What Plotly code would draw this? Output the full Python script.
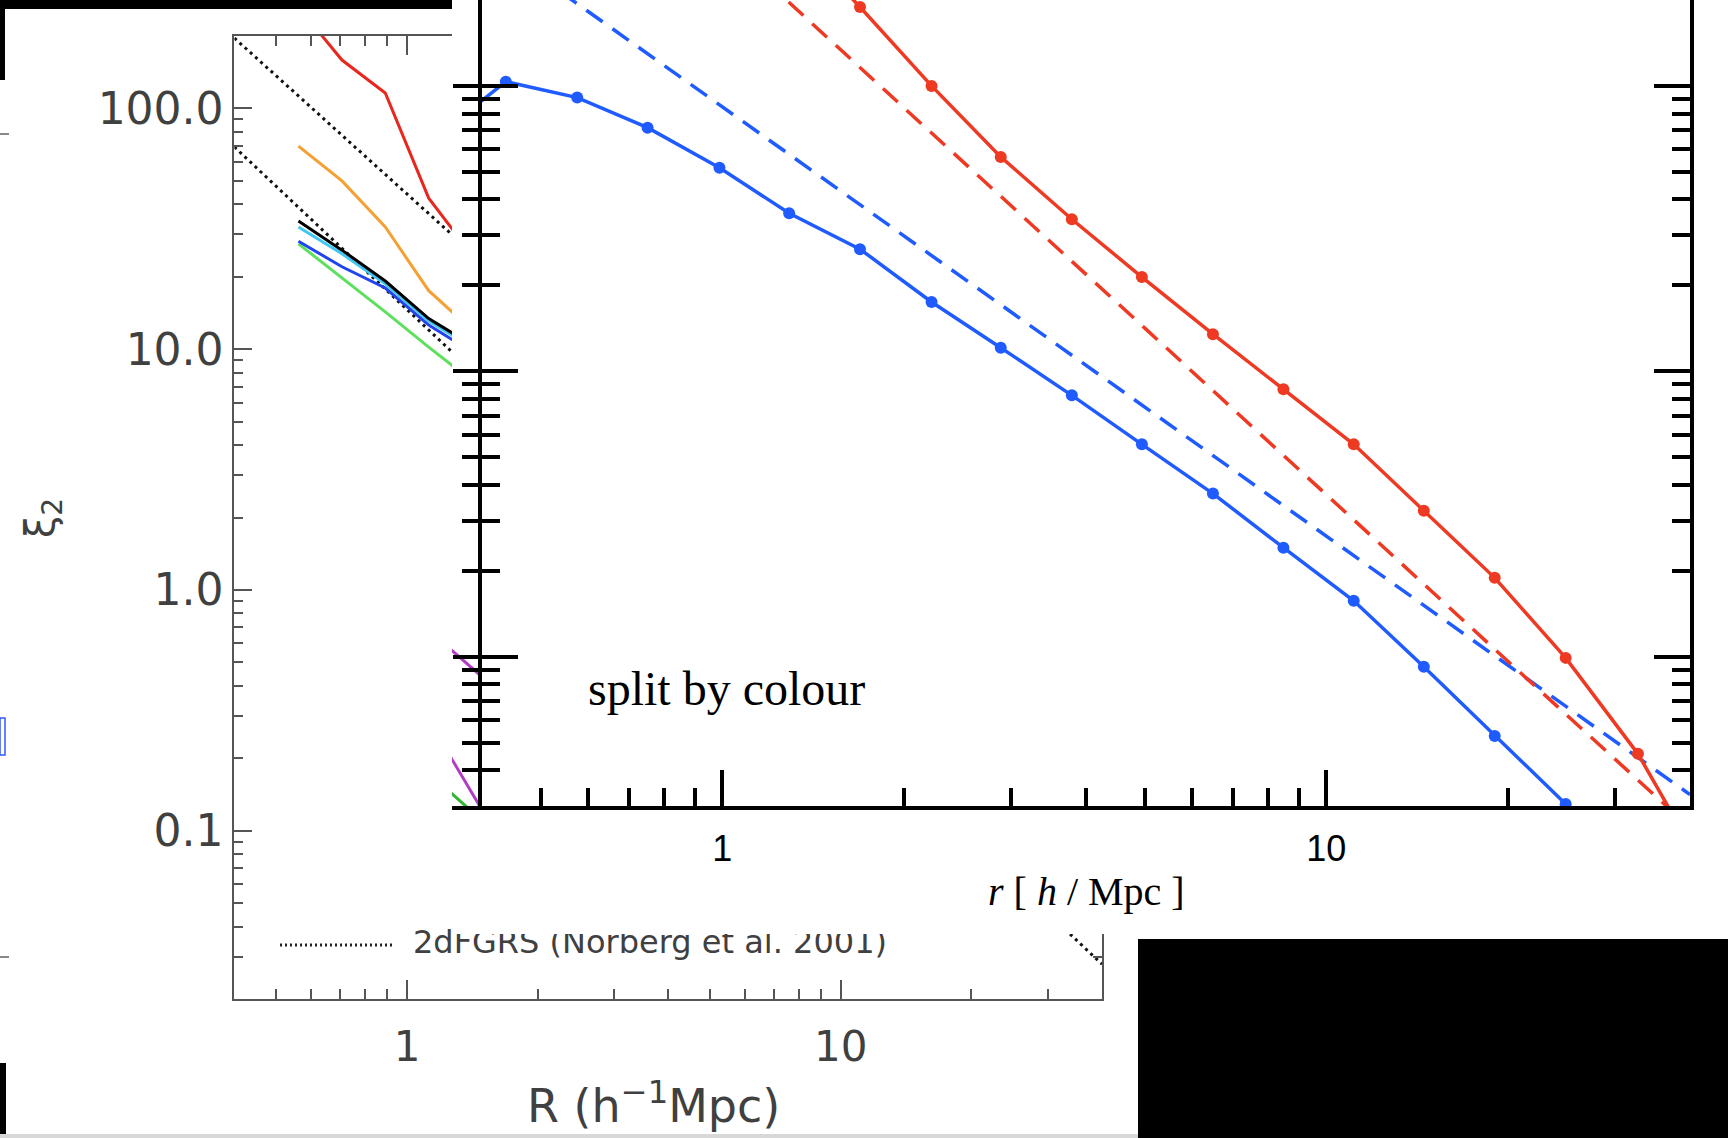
import numpy as np
import plotly.graph_objects as go

W, H = 1728, 1138

# ---------------- background figure: xi_2(R) of model galaxies ----------------
R_model = [0.562, 0.708, 0.891, 1.122, 1.413]
xi2_red = [263.6, 158.9, 115.9, 42.4, 24.6]
xi2_orange = [69.8, 50.0, 32.2, 17.5, 12.0]
xi2_green = [27.4, 19.8, 14.3, 10.2, 7.38]
xi2_cyan = [32.2, 24.9, 18.7, 13.1, 10.2]
xi2_black = [34.1, 25.8, 19.2, 13.4, 10.4]
xi2_blue = [28.1, 22.0, 17.96, 12.6, 9.73]

R_2df = [0.4, 1, 2, 5, 10, 20, 40]
xi2_2df_upper = [196, 44.2, 14.3, 3.21, 1.04, 0.336, 0.109]
xi2_2df_lower = [69.2, 14.6, 4.51, 0.953, 0.293, 0.0904, 0.0279]

bg_xticks = [1, 10]
bg_xticklabels = ["1", "10"]
bg_yticks = [0.1, 1, 10, 100]
bg_yticklabels = ["0.1", "1.0", "10.0", "100.0"]
legend_label = "2dFGRS (Norberg et al. 2001)"

# ---------------- foreground figure: split by colour ----------------
r_bins = [0.335, 0.438, 0.575, 0.752, 0.989, 1.29, 1.69, 2.22, 2.89, 3.79,
          4.95, 6.49, 8.49, 11.1, 14.5, 19.0, 24.9, 32.8, 43.0]
xi_blue = [6.6, 10.35, 9.10, 7.14, 5.17, 3.58, 2.68, 1.75, 1.21, 0.824,
           0.555, 0.373, 0.241, 0.157, 0.0922, 0.0528, 0.0305]
xi_red = [34.7, 18.9, 10.0, 5.64, 3.41, 2.14, 1.35, 0.865, 0.555, 0.325,
          0.189, 0.0991, 0.0457, 0.0168]
RED_FIRST_BIN = 5  # red sample starts at r = 1.29

r_fit = [0.4, 1, 2, 5, 10, 20, 40]
xi_blue_fit = [33.5, 8.44, 2.98, 0.751, 0.263, 0.0929, 0.0329]
xi_red_fit = [190, 32.0, 8.37, 1.42, 0.369, 0.0962, 0.0252]

fg_xticks = [1, 10]
fg_xticklabels = ["1", "10"]
fg_yticks = [0.1, 1, 10]

# edge of the neighbouring panel
r_nb = [34.0, 35.5, 39.8]
xi_nb_magenta_a = [0.115, 0.105, 0.0851]
xi_nb_magenta_b = [0.0504, 0.0436, 0.0291]
r_nb_green = [34.0, 35.5, 38.0]
xi_nb_green = [0.0359, 0.0331, 0.0291]


def px_x(px):
    return px / W


def px_y(py):
    return 1 - py / H


def decade_minors(lo_exp, hi_exp, vmin, vmax):
    vals = []
    for e in range(lo_exp, hi_exp + 1):
        for m in range(2, 10):
            v = m * 10.0 ** e
            if vmin * 1.001 < v < vmax * 0.999:
                vals.append(v)
    return vals


# layout geometry (pixels)
BG = dict(x0=234.4, x1=1102, y0=36, y1=999)
BG_XR = [np.log10(0.4), np.log10(40)]
BG_YR = [np.log10(0.02), np.log10(200)]
COVER = dict(x0=452, x1=W, y0=0, y1=934)
FG = dict(x0=482, x1=1690, y0=0, y1=806)
FG_XR = [np.log10(0.4), np.log10(40)]
FG_YR = [np.log10(0.03), 1.301]
NB = dict(x0=452, x1=482, y0=0, y1=806)
NB_XR = [1.55, 1.60]

BG_FONT = "DejaVu Sans"
BG_GREY = "#555555"
BG_TEXT = "#404040"
BLUE = "#1f5bff"
RED = "#ee3a23"


def bg_data(px, py):
    fx = (px - BG["x0"]) / (BG["x1"] - BG["x0"])
    fy = (py - BG["y0"]) / (BG["y1"] - BG["y0"])
    return (10 ** (BG_XR[0] + fx * (BG_XR[1] - BG_XR[0])),
            10 ** (BG_YR[1] - fy * (BG_YR[1] - BG_YR[0])))


fig = go.Figure()

# background traces
fig.add_trace(go.Scatter(x=R_2df, y=xi2_2df_upper, mode="lines",
                         line=dict(color="#111111", width=3, dash="3px,4px"),
                         xaxis="x", yaxis="y"))
fig.add_trace(go.Scatter(x=R_2df, y=xi2_2df_lower, mode="lines",
                         line=dict(color="#111111", width=3, dash="3px,4px"),
                         xaxis="x", yaxis="y"))
for ys, col in [(xi2_red, "#e8281e"), (xi2_orange, "#f5a033"),
                (xi2_green, "#5ee05e"), (xi2_cyan, "#3fc8f4"),
                (xi2_black, "#000000"), (xi2_blue, "#2244ee")]:
    fig.add_trace(go.Scatter(x=R_model, y=ys, mode="lines",
                             line=dict(color=col, width=3),
                             xaxis="x", yaxis="y"))

lx, ly = bg_data(413, 945)
fig.add_trace(go.Scatter(x=[lx], y=[ly], mode="text", text=[legend_label],
                         textposition="middle right",
                         textfont=dict(family=BG_FONT, size=32, color=BG_TEXT),
                         xaxis="x", yaxis="y"))

# opaque panel laid over the background figure (needs one invisible anchor)
fig.add_trace(go.Scatter(x=[0.5], y=[0.5], mode="markers",
                         marker=dict(opacity=0, size=1), hoverinfo="skip",
                         xaxis="x2", yaxis="y2"))

# neighbouring panel sliver
fig.add_trace(go.Scatter(x=r_nb, y=xi_nb_magenta_a, mode="lines",
                         line=dict(color="#b23cc4", width=3), xaxis="x3", yaxis="y3"))
fig.add_trace(go.Scatter(x=r_nb, y=xi_nb_magenta_b, mode="lines",
                         line=dict(color="#b23cc4", width=3), xaxis="x3", yaxis="y3"))
fig.add_trace(go.Scatter(x=r_nb_green, y=xi_nb_green, mode="lines",
                         line=dict(color="#2fb52f", width=3), xaxis="x3", yaxis="y3"))

# foreground traces
fig.add_trace(go.Scatter(x=r_fit, y=xi_blue_fit, mode="lines",
                         line=dict(color=BLUE, width=3.5, dash="20px,12px"),
                         xaxis="x4", yaxis="y4"))
fig.add_trace(go.Scatter(x=r_fit, y=xi_red_fit, mode="lines",
                         line=dict(color=RED, width=3.5, dash="20px,12px"),
                         xaxis="x4", yaxis="y4"))
fig.add_trace(go.Scatter(x=r_bins[:len(xi_blue)], y=xi_blue, mode="lines+markers",
                         line=dict(color=BLUE, width=3.5),
                         marker=dict(color=BLUE, size=12),
                         xaxis="x4", yaxis="y4"))
fig.add_trace(go.Scatter(x=r_bins[RED_FIRST_BIN:RED_FIRST_BIN + len(xi_red)], y=xi_red,
                         mode="lines+markers",
                         line=dict(color=RED, width=3.5),
                         marker=dict(color=RED, size=12),
                         xaxis="x4", yaxis="y4"))

hidden = dict(showline=False, showgrid=False, zeroline=False,
              showticklabels=False, ticks="", fixedrange=True)

bg_axis_common = dict(type="log", showline=True, linecolor=BG_GREY, linewidth=2,
                      mirror="ticks", ticks="inside", tickwidth=2, tickcolor=BG_GREY,
                      showgrid=False, zeroline=False)

fg_axis_common = dict(type="log", showline=True, linecolor="black", linewidth=4,
                      ticks="inside", tickwidth=4, tickcolor="black",
                      showgrid=False, zeroline=False)

fig.update_layout(
    width=W, height=H, margin=dict(l=0, r=0, t=0, b=0),
    paper_bgcolor="white", plot_bgcolor="white", showlegend=False,
    xaxis=dict(**bg_axis_common, range=BG_XR, anchor="y",
               domain=[px_x(BG["x0"]), px_x(BG["x1"])],
               ticklen=19, tickvals=bg_xticks, ticktext=bg_xticklabels,
               tickfont=dict(family=BG_FONT, size=42, color=BG_TEXT),
               ticklabelstandoff=10,
               minor=dict(ticks="inside", ticklen=10, tickwidth=2, tickcolor=BG_GREY,
                          tickvals=decade_minors(-1, 1, 0.4, 40))),
    yaxis=dict(**bg_axis_common, range=BG_YR, anchor="x",
               domain=[px_y(BG["y1"]), px_y(BG["y0"])],
               ticklen=18, tickvals=bg_yticks, ticktext=bg_yticklabels,
               tickfont=dict(family=BG_FONT, size=44, color=BG_TEXT),
               ticklabelstandoff=0,
               minor=dict(ticks="inside", ticklen=9, tickwidth=2, tickcolor=BG_GREY,
                          tickvals=decade_minors(-2, 2, 0.02, 200))),
    xaxis2=dict(**hidden, range=[0, 1], anchor="y2",
                domain=[px_x(COVER["x0"]), px_x(COVER["x1"])]),
    yaxis2=dict(**hidden, range=[0, 1], anchor="x2",
                domain=[px_y(COVER["y1"]), px_y(COVER["y0"])]),
    # right edge of the neighbouring panel
    xaxis3=dict(type="log", range=NB_XR, anchor="y3",
                domain=[px_x(NB["x0"]), px_x(NB["x1"])],
                showline=True, linecolor="black", linewidth=4,
                showgrid=False, zeroline=False, showticklabels=False, ticks=""),
    yaxis3=dict(type="log", range=FG_YR, anchor="x3", side="right",
                domain=[px_y(NB["y1"]), px_y(NB["y0"])],
                showline=False, showgrid=False, zeroline=False,
                showticklabels=False, ticks="inside", ticklen=29, tickwidth=4,
                tickcolor="black", tickvals=fg_yticks,
                minor=dict(ticks="inside", ticklen=20, tickwidth=4, tickcolor="black",
                           tickvals=decade_minors(-2, 1, 0.03, 20.1))),
    # split-by-colour panel
    xaxis4=dict(**fg_axis_common, range=FG_XR, anchor="y4",
                domain=[px_x(FG["x0"]), px_x(FG["x1"])],
                ticklen=36, tickvals=fg_xticks, ticktext=fg_xticklabels,
                tickfont=dict(family="Liberation Sans", size=36, color="black"),
                ticklabelstandoff=8,
                minor=dict(ticks="inside", ticklen=18, tickwidth=4, tickcolor="black",
                           tickvals=decade_minors(-1, 1, 0.4, 40))),
    yaxis4=dict(**fg_axis_common, range=FG_YR, anchor="x4", mirror="ticks",
                domain=[px_y(FG["y1"]), px_y(FG["y0"])],
                ticklen=36, tickvals=fg_yticks, showticklabels=False,
                minor=dict(ticks="inside", ticklen=18, tickwidth=4, tickcolor="black",
                           tickvals=decade_minors(-2, 1, 0.03, 20.1))),
)

# axis titles and labels
fig.add_annotation(x=px_x(653), y=px_y(1103), xref="paper", yref="paper",
                   text="R (h<sup>−1</sup>Mpc)", showarrow=False,
                   font=dict(family=BG_FONT, size=46, color=BG_TEXT),
                   xanchor="center", yanchor="middle")
fig.add_annotation(x=px_x(43), y=px_y(518), xref="paper", yref="paper",
                   text="ξ<sub>2</sub>", showarrow=False, textangle=-90,
                   font=dict(family=BG_FONT, size=40, color=BG_TEXT),
                   xanchor="center", yanchor="middle")
fig.add_annotation(x=px_x(1086), y=px_y(891), xref="paper", yref="paper",
                   text="<i>r</i> [ <i>h</i> / Mpc ]", showarrow=False,
                   font=dict(family="Liberation Serif", size=40, color="black"),
                   xanchor="center", yanchor="middle")
fig.add_annotation(x=px_x(586), y=px_y(688), xref="paper", yref="paper",
                   text="split by colour", showarrow=False,
                   font=dict(family="Liberation Serif", size=48, color="black"),
                   xanchor="left", yanchor="middle")


def rect(x0, y0, x1, y1, fill, layer="above", line=None):
    fig.add_shape(type="rect", xref="paper", yref="paper",
                  x0=px_x(x0), x1=px_x(x1), y0=px_y(y1), y1=px_y(y0),
                  fillcolor=fill, line=line or dict(width=0), layer=layer)


# legend sample for the 2dFGRS curves
fig.add_shape(type="line", xref="paper", yref="paper", layer="below",
              x0=px_x(280), x1=px_x(395), y0=px_y(945), y1=px_y(945),
              line=dict(color="#222222", width=3, dash="2px,3px"))

# frame pieces around the composite
rect(0, 0, 452, 9, "black")
rect(0, 0, 5, 80, "black")
rect(0, 1063, 6, 1138, "black")
rect(1138, 939, W, H, "black")
rect(0, 1134, 1138, 1138, "#d8d8d8")
rect(0, 718, 5, 755, "rgba(0,0,0,0)", line=dict(color="#3355ff", width=1.5))
for yy in (134, 957):
    fig.add_shape(type="line", xref="paper", yref="paper",
                  x0=0, x1=px_x(9), y0=px_y(yy), y1=px_y(yy),
                  line=dict(color="#888888", width=2))

fig.write_html("out.html")
